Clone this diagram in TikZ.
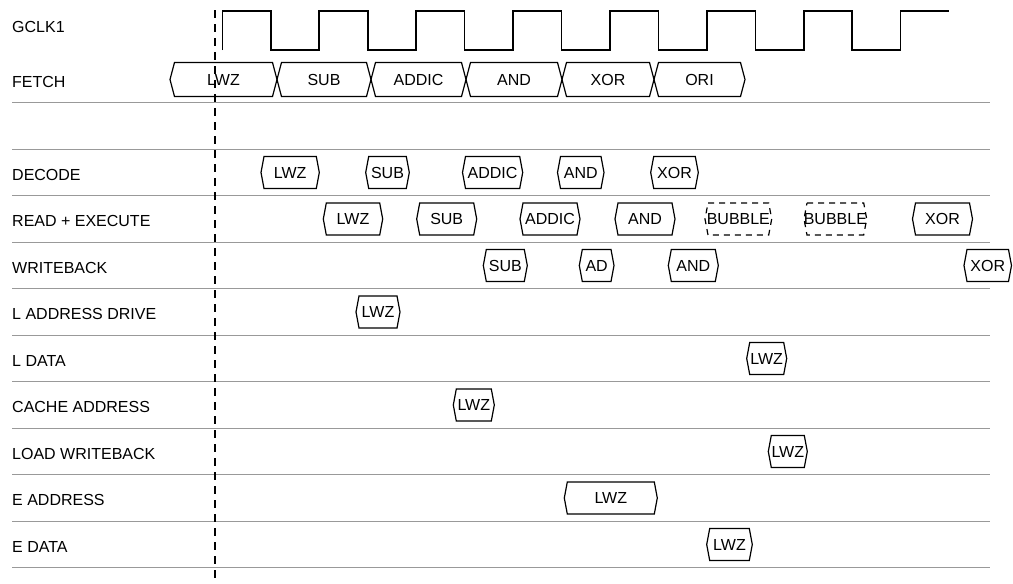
\documentclass[tikz,border=0pt]{standalone}
\usepackage{fontspec}
\setmainfont{Liberation Sans}
\usetikzlibrary{calc}

\tikzset{
    rowlabel/.style={anchor=west, inner sep=0pt, font=\fontsize{16}{19}\selectfont},
    valtext/.style={inner sep=0pt, font=\fontsize{16}{19}\selectfont},
    rowline/.style={draw=black!40, line width=1.3pt},
    busedge/.style={draw=black, line width=1.2pt},
    bubble/.style={dash pattern=on 6pt off 5pt},
    clk/.style={draw=black, line width=1.6pt},
    refmark/.style={draw=black, line width=1.8pt, dash pattern=on 8pt off 6pt},
}

% [style]{name}{left x}{right x}{row y}{text}
\newcommand{\busval}[6][]{%
    \draw[busedge,#1] (#3+\bd,#5-\bh) -- (#4-\bd,#5-\bh) -- (#4,#5)
        -- (#4-\bd,#5+\bh) -- (#3+\bd,#5+\bh) -- (#3,#5) -- cycle;
    \node[valtext] (#2) at ({(#3+#4)/2},#5) {#6};
}

\begin{document}
\begin{tikzpicture}[x=1pt, y=-1pt]
                \useasboundingbox (0,0) rectangle (1013,584);
                % row names and row lines
                \node[rowlabel] (lab0) at (12,27) {GCLK1};
                \foreach \lab [count=\i from 1] in {FETCH, {}, DECODE, READ + EXECUTE, WRITEBACK,
                        L ADDRESS DRIVE, L DATA, CACHE ADDRESS, LOAD WRITEBACK, E ADDRESS, E DATA} {
                    \node[rowlabel] (lab\i) at (12,{33+46.5*\i+2}) {\lab};
                    \draw[rowline] (12,{33+46.5*\i+23.25}) -- (990,{33+46.5*\i+23.25});
                }
                % clock
                \draw[clk] (222.3,50) \foreach \k in {0,...,6} {
                        -- ++(0,-39) -- ++(48.5,0) -- ++(0,39) -- ++(48.4,0) }
                    -- ++(0,-39) -- ++(48,0);
                % fetch
                \begin{scope}
                    \def\bh{17}\def\bd{4.5}
                    \busval{f1}{170}{277}{79.5}{LWZ}
                    \busval{f2}{277}{371}{79.5}{SUB}
                    \busval{f3}{371}{466}{79.5}{ADDIC}
                    \busval{f4}{466}{562}{79.5}{AND}
                    \busval{f5}{562}{654}{79.5}{XOR}
                    \busval{f6}{654}{745}{79.5}{ORI}
                \end{scope}
                \def\bh{16}\def\bd{3}
                % decode
                \busval{d1}{261}{319.3}{172.5}{LWZ}
                \busval{d2}{365.7}{409.3}{172.5}{SUB}
                \busval{d3}{462.5}{522.7}{172.5}{ADDIC}
                \busval{d4}{557.5}{604}{172.5}{AND}
                \busval{d5}{650.7}{698.3}{172.5}{XOR}
                % read + execute
                \busval{x1}{323.3}{382.7}{219}{LWZ}
                \busval{x2}{416.7}{476.7}{219}{SUB}
                \busval{x3}{520}{580}{219}{ADDIC}
                \busval{x4}{615}{675}{219}{AND}
                \busval[bubble]{x5}{705}{771.7}{219}{BUBBLE}
                \busval[bubble]{x6}{804}{866.7}{219}{BUBBLE}
                \busval{x7}{912.5}{972.5}{219}{XOR}
                % writeback
                \busval{w1}{483.3}{527.3}{265.5}{SUB}
                \busval{w2}{579.3}{614}{265.5}{AD}
                \busval{w3}{668.3}{718.3}{265.5}{AND}
                \busval{w4}{964}{1011.5}{265.5}{XOR}
                % load path
                \busval{lad}{356}{400}{312}{LWZ}
                \busval{ldat}{746.7}{786.7}{358.5}{LWZ}
                \busval{cad}{453.3}{494.3}{405}{LWZ}
                \busval{lwb}{768.3}{807.3}{451.5}{LWZ}
                \busval{ead}{564.3}{657.3}{498}{LWZ}
                \busval{edat}{706.7}{752.3}{544.5}{LWZ}
                % reference edge
                \coordinate (mtop) at (215,10);
                \coordinate (mbot) at (215,584);
                \draw[refmark] (mtop) -- (mbot);
\end{tikzpicture}
\end{document}
